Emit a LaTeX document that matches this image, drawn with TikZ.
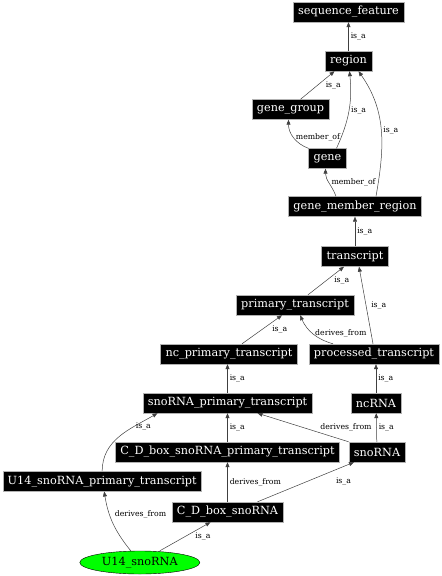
\documentclass[tikz,border=0pt]{standalone}
\usepackage{fontspec}
\usepackage{tikz}
\usetikzlibrary{shapes, arrows.meta}
\newfontfamily\termfont{DejaVu Serif}
\definecolor{leafgreen}{RGB}{0,255,0}

\begin{document}
\begin{tikzpicture}[>={Triangle[length=5bp,width=4bp]}, term/.style = {draw=gray!60, fill=black, text=white, rectangle, inner xsep=5bp, inner ysep=0pt, minimum height=20bp, font=\termfont\fontsize{11.3}{12}\selectfont}, leaf/.style = {draw, fill=leafgreen, ellipse, minimum width=120bp, minimum height=23bp, inner sep=0pt, font=\termfont\fontsize{11.3}{12}\selectfont}, rel/.style = {draw=black!75, line width=0.5bp, ->}, lbl/.style = {font=\termfont\fontsize{7.8}{9}\selectfont, inner sep=2bp}]
        \useasboundingbox (0,0) rectangle (442bp,-576bp);
        \node[term] (seqfeat) at (348.5bp,-12bp) {sequence\_feature};
        \node[term] (region) [below of=seqfeat, node distance = 49bp] {region};
        \node[term] (genegroup) [below of=region, node distance = 48.5bp, xshift=-58bp] {gene\_group};
        \node[term] (gene) [below of=genegroup, node distance = 49bp, xshift=37bp] {gene};
        \node[term] (gmr) [below of=gene, node distance = 48bp, xshift=27.5bp] {gene\_member\_region};
        \node[term] (transcript) [below of=gmr, node distance = 50bp] {transcript};
        \node[term] (primary) [below of=transcript, node distance = 48.5bp, xshift=-60bp] {primary\_transcript};
        \node[term] (ncprimary) [below of=primary, node distance = 49bp, xshift=-66bp] {nc\_primary\_transcript};
        \node[term] (processed) [below of=transcript, node distance = 97.5bp, xshift=19bp] {processed\_transcript};
        \node[term] (snoprimary) [below of=ncprimary, node distance = 49bp, xshift=-1.5bp] {snoRNA\_primary\_transcript};
        \node[term] (ncrna) [below of=processed, node distance = 49bp, xshift=2bp] {ncRNA};
        \node[term] (cdprimary) [below of=snoprimary, node distance = 49bp] {C\_D\_box\_snoRNA\_primary\_transcript};
        \node[term] (snorna) [below of=ncrna, node distance = 49bp, xshift=1bp] {snoRNA};
        \node[term] (u14primary) [below of=cdprimary, node distance = 29.3bp, xshift=-125.3bp] {U14\_snoRNA\_primary\_transcript};
        \node[term] (cdsnorna) [below of=cdprimary, node distance = 60bp] {C\_D\_box\_snoRNA};
        \node[leaf] (u14) [below of=cdsnorna, node distance = 50.5bp, xshift=-87.7bp] {U14\_snoRNA};
        \draw[rel] (region) -- (seqfeat) node[lbl, midway, right] {is\_a};
        \draw[rel] ([xshift=10bp]genegroup.north) -- ([xshift=-14bp]region.south) node[lbl, midway, right, xshift=6bp] {is\_a};
        \draw[rel] ([xshift=9bp]gene.north) to[bend right=15] node[lbl, midway, right] {is\_a} ([xshift=1bp]region.south);
        \draw[rel] (gene.north west) to[bend left=35] node[lbl, midway, right] {member\_of} ([xshift=-2bp]genegroup.south);
        \draw[rel] ([xshift=21bp]gmr.north) to[out=80, in=-55] node[lbl, midway, right] {is\_a} ([xshift=10bp]region.south);
        \draw[rel] ([xshift=-19bp]gmr.north) to[out=110, in=-90] node[lbl, midway, right] {member\_of} ([xshift=-2bp]gene.south);
        \draw[rel] (transcript) -- (gmr) node[lbl, midway, right] {is\_a};
        \draw[rel] ([xshift=13bp]primary.north) -- ([xshift=-11bp]transcript.south) node[lbl, midway, right, xshift=6bp] {is\_a};
        \draw[rel] ([xshift=-1bp]processed.north) -- ([xshift=4bp]transcript.south) node[lbl, midway, right, xshift=3bp] {is\_a};
        \draw[rel] ([xshift=-41bp]processed.north) to[bend left=25] node[lbl, midway, right] {derives\_from} ([xshift=5bp]primary.south);
        \draw[rel] ([xshift=13bp]ncprimary.north) -- ([xshift=-13bp]primary.south) node[lbl, midway, right, xshift=8bp] {is\_a};
        \draw[rel] (snoprimary.north) -- (snoprimary.north |- ncprimary.south) node[lbl, midway, right] {is\_a};
        \draw[rel] (ncrna.north) -- (ncrna.north |- processed.south) node[lbl, midway, right] {is\_a};
        \draw[rel] (snorna) -- (ncrna) node[lbl, midway, right] {is\_a};
        \draw[rel] (snorna.north west) -- ([xshift=30bp]snoprimary.south) node[lbl, midway, right=15bp] {derives\_from};
        \draw[rel] (cdprimary) -- (snoprimary) node[lbl, midway, right] {is\_a};
        \draw[rel] (u14primary.north) to[out=90, in=-150] node[lbl, pos=0.7, right] {is\_a} ([xshift=-70bp]snoprimary.south);
        \draw[rel] (cdsnorna) -- (cdprimary) node[lbl, midway, right] {derives\_from};
        \draw[rel] ([xshift=30bp]cdsnorna.north) -- ([xshift=-23bp]snorna.south) node[lbl, midway, right=28bp] {is\_a};
        \draw[rel] ([xshift=-9bp]u14.north) to[bend left=15] node[lbl, pos=0.65, right, xshift=3bp] {derives\_from} ([xshift=2bp]u14primary.south);
        \draw[rel] ([xshift=20bp]u14.north) -- ([xshift=-17bp]cdsnorna.south) node[lbl, midway, right=8bp] {is\_a};
    \end{tikzpicture}
\end{document}
